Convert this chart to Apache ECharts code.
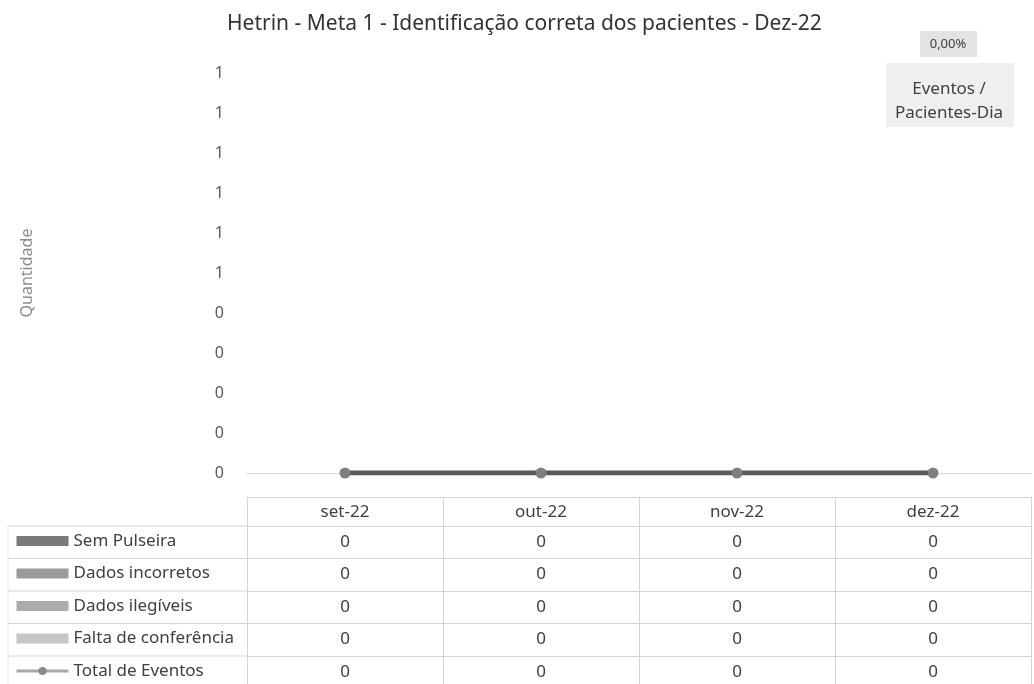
<!DOCTYPE html>
<html>
<head>
<meta charset="utf-8">
<script src="https://cdn.jsdelivr.net/npm/echarts@6/dist/echarts.min.js"></script>
<style>
html,body{margin:0;padding:0;background:#fff;}
#chart{width:1034px;height:684px;}
</style>
</head>
<body>
<div id="chart"></div>
<script>
const titleText = 'Hetrin - Meta 1 - Identificação correta dos pacientes - Dez-22';
const months = ['set-22', 'out-22', 'nov-22', 'dez-22'];
const semPulseira = [0, 0, 0, 0];
const dadosIncorretos = [0, 0, 0, 0];
const dadosIlegiveis = [0, 0, 0, 0];
const faltaConferencia = [0, 0, 0, 0];
const totalEventos = [0, 0, 0, 0];
const yTickLabels = ['0', '0', '0', '0', '0', '1', '1', '1', '1', '1', '1'];
const taxaEventos = '0,00%';
const taxaLabel = ['Eventos /', 'Pacientes-Dia'];

const rows = [
  { name: 'Sem Pulseira', values: semPulseira, color: '#7a7a7a' },
  { name: 'Dados incorretos', values: dadosIncorretos, color: '#9a9a9a' },
  { name: 'Dados ilegíveis', values: dadosIlegiveis, color: '#ababab' },
  { name: 'Falta de conferência', values: faltaConferencia, color: '#c6c6c6' },
  { name: 'Total de Eventos', values: totalEventos, color: '#8a8a8a', line: true }
];

const FONT = 'Noto Sans';
const TXT = '#404040';
const BORDER = '#d4d4d4';
const gridLeft = 247, gridRight = 3, gridTop = 73, gridBottomY = 473;
const headerOffset = 24;
const rowOffsets = [53, 85.5, 118, 150.5, 183];
const rowHeights = [32.5, 32.5, 32.5, 32.5, 40];

const chart = echarts.init(document.getElementById('chart'));

const xAxes = [
  {
    type: 'category', data: months, position: 'bottom', boundaryGap: true,
    axisLine: { show: true, lineStyle: { color: '#d9d9d9', width: 1 } },
    axisTick: { show: false }, axisLabel: { show: false }
  },
  {
    type: 'category', data: months, position: 'bottom', offset: headerOffset,
    axisLine: { show: true, lineStyle: { color: BORDER } },
    axisTick: { show: true, interval: 0, length: rowOffsets[0] - headerOffset, lineStyle: { color: BORDER } },
    axisLabel: { show: true, interval: 0, margin: 15, verticalAlign: 'middle', fontFamily: FONT, fontSize: 17, color: TXT }
  }
];
rows.forEach((r, i) => {
  xAxes.push({
    type: 'category', data: months, position: 'bottom', offset: rowOffsets[i],
    axisLine: { show: true, lineStyle: { color: BORDER } },
    axisTick: { show: true, interval: 0, length: rowHeights[i], lineStyle: { color: BORDER } },
    axisLabel: {
      show: true, interval: 0, margin: 16, verticalAlign: 'middle',
      fontFamily: FONT, fontSize: 17, color: TXT,
      formatter: (v, idx) => String(r.values[idx])
    }
  });
});

const series = rows.map(r => r.line ? {
  name: r.name, type: 'line', data: r.values, xAxisIndex: 0, yAxisIndex: 0,
  symbol: 'circle', symbolSize: 11, z: 5,
  itemStyle: { color: '#808080' },
  lineStyle: { color: '#5a5a5a', width: 5 }
} : {
  name: r.name, type: 'bar', stack: 'eventos', data: r.values, xAxisIndex: 0, yAxisIndex: 0,
  barWidth: '55%', itemStyle: { color: r.color }
});

// left part of table row separators (label column)
const graphics = [];
const lineYs = rowOffsets.map(o => gridBottomY + o);
lineYs.forEach(y => {
  graphics.push({ type: 'line', shape: { x1: 8, y1: y, x2: gridLeft, y2: y }, style: { stroke: BORDER, lineWidth: 1 }, silent: true });
});
graphics.push({ type: 'line', shape: { x1: 8, y1: lineYs[0], x2: 8, y2: 684 }, style: { stroke: '#e6e6e6', lineWidth: 1 }, silent: true });
// rate boxes
graphics.push({ type: 'rect', shape: { x: 920, y: 31, width: 57, height: 26 }, style: { fill: '#e3e3e3' }, silent: true });
graphics.push({ type: 'text', x: 948, y: 44, style: { text: taxaEventos, fontFamily: FONT, fontSize: 13, fill: TXT, align: 'center', verticalAlign: 'middle' }, silent: true });
graphics.push({ type: 'rect', shape: { x: 886, y: 63, width: 128, height: 64 }, style: { fill: '#efefef' }, silent: true });
graphics.push({ type: 'text', x: 949, y: 89, style: { text: taxaLabel[0], fontFamily: FONT, fontSize: 17, fill: TXT, align: 'center', verticalAlign: 'middle' }, silent: true });
graphics.push({ type: 'text', x: 949, y: 113, style: { text: taxaLabel[1], fontFamily: FONT, fontSize: 17, fill: TXT, align: 'center', verticalAlign: 'middle' }, silent: true });

chart.setOption({
  animation: false,
  backgroundColor: '#ffffff',
  title: {
    text: titleText, left: 222, top: 9,
    textStyle: { fontFamily: FONT, fontSize: 21, fontWeight: 'normal', color: '#333333' }
  },
  grid: { left: gridLeft, right: gridRight, top: gridTop, bottom: 684 - gridBottomY, containLabel: false },
  legend: {
    orient: 'vertical', left: 15, top: gridBottomY + rowOffsets[0] + 2, padding: 0, itemGap: 6.5,
    itemWidth: 52, itemHeight: 10, selectedMode: false,
    data: rows.map(r => r.line
      ? { name: r.name, lineStyle: { color: '#a8a8a8', width: 3 }, itemStyle: { color: '#8a8a8a' } }
      : { name: r.name, icon: 'rect' }),
    textStyle: { fontFamily: FONT, fontSize: 17, color: TXT, lineHeight: 26, padding: [0, 0, 0, 0] }
  },
  xAxis: xAxes,
  yAxis: {
    type: 'value', min: 0, max: 1, interval: 0.1,
    name: 'Quantidade', nameLocation: 'middle', nameGap: 212,
    nameTextStyle: { fontFamily: FONT, fontSize: 16, color: '#8c8c8c' },
    axisLine: { show: false }, axisTick: { show: false }, splitLine: { show: false },
    axisLabel: {
      margin: 23, fontFamily: FONT, fontSize: 16, color: '#595959',
      formatter: v => yTickLabels[Math.round(v * 10)]
    }
  },
  graphic: graphics,
  series: series
});
</script>
</body>
</html>
